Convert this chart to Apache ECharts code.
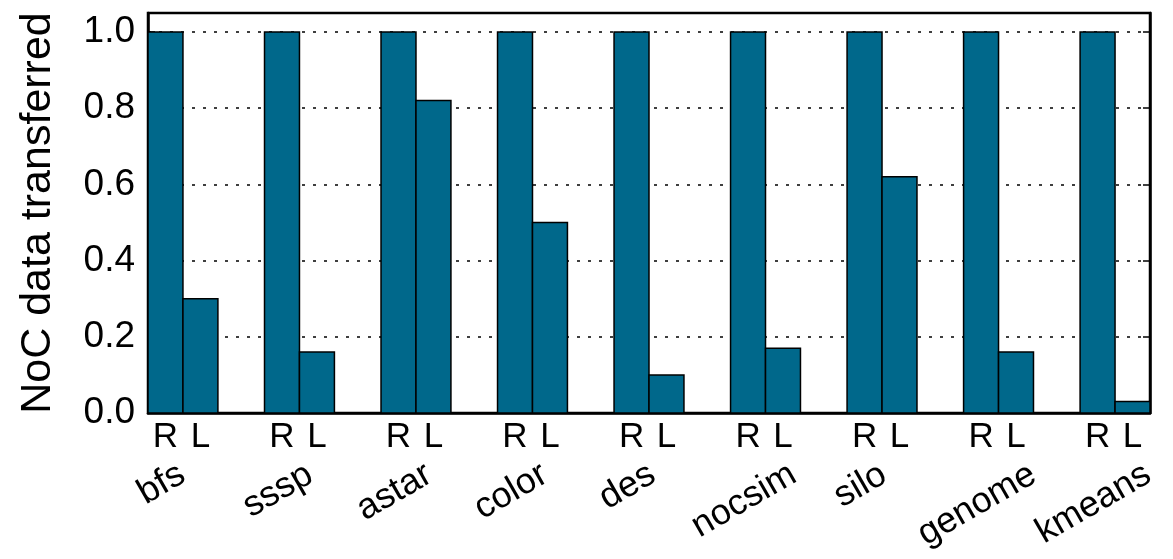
<!DOCTYPE html>
<html>
<head>
<meta charset="utf-8">
<script src="https://cdn.jsdelivr.net/npm/echarts@6/dist/echarts.min.js"></script>
<style>
  html, body { margin: 0; padding: 0; background: #fff; }
  #chart { width: 1173px; height: 559px; }
</style>
</head>
<body>
<div id="chart"></div>
<script>
// Benchmarks and the fraction of NoC data transferred (R = baseline, L = optimized)
const categories = ['bfs', 'sssp', 'astar', 'color', 'des', 'nocsim', 'silo', 'genome', 'kmeans'];
const rValues = [1.0, 1.0, 1.0, 1.0, 1.0, 1.0, 1.0, 1.0, 1.0];
const lValues = [0.30, 0.16, 0.82, 0.50, 0.10, 0.17, 0.62, 0.16, 0.03];
const barLabels = ['R', 'L'];
const yTicks = [0.0, 0.2, 0.4, 0.6, 0.8, 1.0];

const BAR_W = 0.3;           // bar width in x-axis units; groups are 1 unit apart
const FONT = '"Liberation Sans", Arial, Helvetica, sans-serif';
const FILL = '#00688B';
const NAME_SIZE = 36;
const NAME_ROT = Math.PI / 6;

// x positions: R bar at i, L bar right next to it
const rData = categories.map((c, i) => [i, rValues[i]]);
const lData = categories.map((c, i) => [i + BAR_W, lValues[i]]);
const tickPos = [];
const tickText = [];
categories.forEach((c, i) => {
  tickPos.push(i, i + BAR_W);
  tickText.push(barLabels[0], barLabels[1]);
});
const nameData = categories.map((c, i) => [i, 0]);

const measureCtx = document.createElement('canvas').getContext('2d');
measureCtx.font = NAME_SIZE + 'px ' + FONT;

function barItem(params, api) {
  const x = api.value(0), v = api.value(1);
  const p1 = api.coord([x - BAR_W / 2, v]);
  const p2 = api.coord([x + BAR_W / 2, 0]);
  return {
    type: 'rect',
    shape: { x: p1[0], y: p1[1], width: p2[0] - p1[0], height: p2[1] - p1[1] },
    style: { fill: FILL, stroke: '#000', lineWidth: 1.5 }
  };
}

// rotated benchmark names, box tops aligned below the R/L row
function nameItem(params, api) {
  const name = categories[params.dataIndex];
  const base = api.coord([api.value(0), 0]);
  const w = measureCtx.measureText(name).width;
  const h = NAME_SIZE * 0.9;
  const top = base[1] + 45;
  const cy = top + (w * Math.sin(NAME_ROT) + h * Math.cos(NAME_ROT)) / 2;
  return {
    type: 'text',
    x: base[0] - 4,
    y: cy,
    rotation: NAME_ROT,
    style: {
      text: name,
      font: NAME_SIZE + 'px ' + FONT,
      fill: '#000',
      align: 'center',
      verticalAlign: 'middle'
    }
  };
}

const chart = echarts.init(document.getElementById('chart'), null, { renderer: 'canvas' });
chart.setOption({
  animation: false,
  backgroundColor: '#fff',
  grid: {
    left: 148, right: 23, top: 13, bottom: 146,
    containLabel: false,
    outerBoundsMode: 'none',
    show: true, borderColor: '#000', borderWidth: 2.5, backgroundColor: 'transparent'
  },
  xAxis: {
    type: 'value',
    min: -BAR_W / 2,
    max: categories.length - 1 + BAR_W * 1.5,
    axisLine: { show: true, onZero: false, lineStyle: { color: '#000', width: 2.5 } },
    axisTick: { show: false },
    splitLine: { show: false },
    axisLabel: {
      customValues: tickPos,
      margin: 7,
      fontFamily: FONT,
      fontSize: 35,
      color: '#000',
      formatter: function (val) {
        const k = tickPos.findIndex(p => Math.abs(p - val) < 1e-6);
        return k >= 0 ? tickText[k] : '';
      }
    }
  },
  yAxis: [
    {
      type: 'value',
      position: 'left',
      min: 0,
      max: 1.05,
      interval: 0.2,
      name: 'NoC data transferred',
      nameLocation: 'middle',
      nameGap: 88,
      nameTextStyle: { fontFamily: FONT, fontSize: 43, color: '#000' },
      axisLine: { show: true, onZero: false, lineStyle: { color: '#000', width: 2.5 } },
      axisTick: { show: true, inside: true, length: 7, lineStyle: { color: '#000', width: 1.5 } },
      axisLabel: {
        showMaxLabel: false,
        margin: 13,
        fontFamily: FONT,
        fontSize: 37,
        color: '#000',
        formatter: function (v) {
          return yTicks.some(t => Math.abs(t - v) < 1e-6) ? v.toFixed(1) : '';
        }
      },
      splitLine: { show: true, lineStyle: { color: '#000', width: 1.5, type: [3, 8] } }
    },
    {
      type: 'value',
      position: 'right',
      min: 0,
      max: 1.05,
      interval: 0.2,
      axisLine: { show: true, onZero: false, lineStyle: { color: '#000', width: 2.5 } },
      axisTick: { show: true, inside: true, length: 7, lineStyle: { color: '#000', width: 1.5 } },
      axisLabel: { show: false },
      splitLine: { show: false }
    }
  ],
  series: [
    { name: 'R', type: 'custom', renderItem: barItem, data: rData, z: 3 },
    { name: 'L', type: 'custom', renderItem: barItem, data: lData, z: 3 },
    { name: 'names', type: 'custom', renderItem: nameItem, data: nameData, clip: false, silent: true, z: 4 }
  ]
});
</script>
</body>
</html>
